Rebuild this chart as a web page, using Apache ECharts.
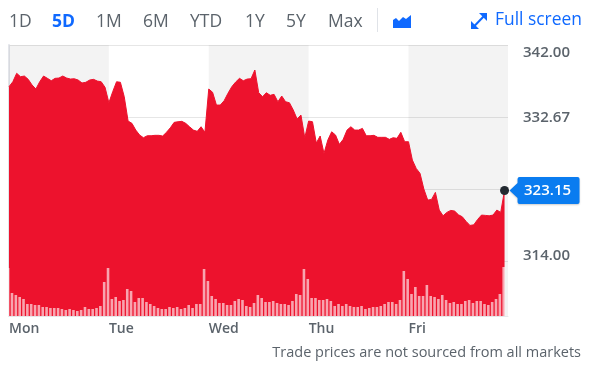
<!DOCTYPE html>
<html>
<head>
<meta charset="utf-8">
<style>
  html, body { margin: 0; padding: 0; background: #fff; }
  #chart { width: 596px; height: 378px; }
</style>
<script src="https://cdn.jsdelivr.net/npm/echarts@6/dist/echarts.min.js"></script>
</head>
<body>
<div id="chart"></div>
<script>
const days = ['Mon', 'Tue', 'Wed', 'Thu', 'Fri'];
const dayStarts = [0, 26, 52, 78, 104];
const ranges = ['1D', '5D', '1M', '6M', 'YTD', '1Y', '5Y', 'Max'];
const rangeX = [9, 52, 96, 143, 190, 245, 286, 328];
const priceTicks = [342, 332.67, 323.33, 314];
const hiddenTick = 323.33;

// one reading per half hour bar
const prices = [
  336.60, 337.24, 338.33, 337.89, 337.98, 337.55, 336.82, 336.30, 337.24, 337.98, 337.68, 337.37, 337.68,
  337.72, 337.98, 337.72, 337.59, 337.63, 337.46, 337.08, 337.17, 337.46, 337.55, 337.33, 337.24, 336.52,
  334.52, 335.95, 337.24, 337.17, 335.30, 332.15, 331.85, 330.98, 330.34, 329.99, 330.25, 330.25, 330.30,
  330.30, 330.21, 330.69, 331.28, 331.98, 332.06, 332.11, 331.85, 331.41, 330.98, 330.82, 331.41, 330.69,
  336.30, 335.87, 334.22, 334.22, 334.78, 335.74, 336.60, 337.20, 337.68, 337.37, 337.59, 337.63, 338.76,
  335.82, 335.30, 335.82, 335.48, 335.61, 334.65, 335.39, 334.65, 334.52, 333.58, 332.41, 332.93, 329.99,
  332.15, 332.06, 329.30, 330.21, 327.96, 329.69, 330.76, 330.34, 329.13, 329.78, 330.98, 331.41, 330.98,
  330.98, 331.20, 330.25, 330.25, 330.30, 330.04, 330.04, 330.04, 329.78, 329.99, 329.91, 330.69, 329.47,
  329.47, 327.10, 326.02, 325.37, 323.34, 321.91, 322.00, 322.91, 320.62, 319.88, 320.32, 320.58, 320.49,
  320.01, 319.75, 319.15, 318.63, 318.71, 319.41, 319.97, 319.93, 319.88, 319.97, 320.62, 320.32, 323.15
];
const volumes = [
  48, 23, 21, 19, 17, 12, 12, 11, 11, 9, 9, 8, 8,
  8, 7, 6, 7, 6, 5, 6, 9, 7, 7, 8, 10, 34,
  48, 17, 19, 15, 16, 27, 25, 14, 18, 18, 14, 12, 10,
  8, 7, 7, 9, 8, 9, 7, 8, 11, 8, 12, 12, 47,
  35, 20, 17, 13, 13, 11, 11, 15, 17, 16, 10, 9, 13,
  21, 18, 14, 14, 15, 13, 12, 12, 11, 15, 22, 21, 47,
  37, 18, 18, 16, 16, 17, 15, 10, 12, 10, 12, 10, 9,
  9, 10, 7, 8, 9, 9, 10, 12, 14, 14, 12, 16, 45,
  37, 22, 29, 20, 20, 31, 20, 19, 17, 21, 16, 13, 14,
  12, 12, 15, 16, 13, 15, 15, 12, 11, 14, 17, 22, 49
];
const lastPrice = 323.15;

const grey = '#5b636b';
const blue = '#0f69ff';
const red = '#ed122d';
const font = '"Open Sans", sans-serif';

const myChart = echarts.init(document.getElementById('chart'), null, { renderer: 'canvas' });

const rangeText = ranges.map((name, i) => ({
  type: 'text',
  left: rangeX[i],
  top: 13,
  style: {
    text: name,
    fill: name === '5D' ? blue : grey,
    font: (name === '5D' ? '700' : '500') + ' 17.5px ' + font
  }
}));

const option = {
  backgroundColor: '#fff',
  animation: false,
  grid: { left: 9, right: 88, top: 45, bottom: 62 },
  xAxis: [
    {
      type: 'value',
      min: 0,
      max: 129.9,
      axisLine: { show: true, lineStyle: { color: '#e6e7ea', width: 1 } },
      axisTick: { show: false },
      splitLine: { show: false },
      axisLabel: {
        customValues: dayStarts,
        formatter: (v) => days[dayStarts.indexOf(v)] || '',
        align: 'left',
        color: grey,
        fontFamily: font,
        fontSize: 14,
        fontWeight: 600,
        margin: 6
      }
    },
    {
      // volume bars sit a little left of the price points
      type: 'value',
      min: 0.22,
      max: 130.12,
      show: false
    }
  ],
  yAxis: [
    {
      type: 'value',
      min: 306.9,
      max: 342,
      position: 'right',
      axisLine: { show: true, lineStyle: { color: '#e3e5ea', width: 2 } },
      axisTick: { show: false, customValues: priceTicks },
      splitLine: { show: true, lineStyle: { color: '#e6e6e6', width: 1 } },
      axisLabel: {
        customValues: priceTicks,
        margin: 15,
        formatter: (v) => {
          if (v === hiddenTick) return '';
          if (v === 342) return '{top|' + v.toFixed(2) + '}';
          if (v === 314) return '{low|' + v.toFixed(2) + '}';
          return '{mid|' + v.toFixed(2) + '}';
        },
        rich: {
          top: { color: grey, fontFamily: font, fontSize: 15, fontWeight: 600, padding: [16, 0, 0, 0] },
          mid: { color: grey, fontFamily: font, fontSize: 15, fontWeight: 600, padding: [2, 0, 0, 0] },
          low: { color: grey, fontFamily: font, fontSize: 15, fontWeight: 600, padding: [0, 0, 10, 0] }
        }
      }
    },
    {
      type: 'value',
      min: 0,
      max: 271,
      show: false
    }
  ],
  series: [
    {
      type: 'line',
      z: 1,
      data: [],
      silent: true,
      markArea: {
        silent: true,
        itemStyle: { color: 'rgba(0,0,0,0.047)' },
        data: [
          [{ xAxis: dayStarts[0] }, { xAxis: dayStarts[1] }],
          [{ xAxis: dayStarts[2] }, { xAxis: dayStarts[3] }],
          [{ xAxis: dayStarts[4] }, { xAxis: 129.9 }]
        ]
      }
    },
    {
      type: 'line',
      z: 2,
      data: prices.map((p, i) => [i, p]),
      showSymbol: false,
      lineStyle: { color: red, width: 1 },
      areaStyle: { color: red, opacity: 1, origin: 'start' },
      markPoint: {
        silent: true,
        data: [
          {
            coord: [prices.length - 1, lastPrice],
            symbol: 'path://M0 13.5 L8 6 L8 2 Q8 0 10 0 L68 0 Q70 0 70 2 L70 25 Q70 27 68 27 L10 27 Q8 27 8 25 L8 21 Z',
            symbolSize: [70, 27],
            symbolOffset: [40, 0],
            itemStyle: { color: '#0a7cf0', shadowColor: 'rgba(0,0,0,0.2)', shadowBlur: 2, shadowOffsetY: 1 },
            label: {
              show: true,
              position: 'inside',
              offset: [3, 0],
              formatter: lastPrice.toFixed(2),
              color: '#fff',
              fontFamily: font,
              fontSize: 15,
              fontWeight: 600
            }
          },
          {
            coord: [prices.length - 1, lastPrice],
            symbol: 'circle',
            symbolSize: 9,
            itemStyle: { color: '#232a31' },
            label: { show: false }
          }
        ]
      }
    },
    {
      type: 'bar',
      z: 3,
      xAxisIndex: 1,
      yAxisIndex: 1,
      barWidth: 2.6,
      data: volumes.map((v, i) => [i, v]),
      itemStyle: { color: 'rgba(255,255,255,0.62)' }
    }
  ],
  graphic: rangeText.concat([
    { type: 'rect', shape: { x: 377, y: 8, width: 1, height: 24 }, style: { fill: '#e0e3e8' } },
    // area chart icon
    {
      type: 'polygon',
      shape: { points: [[393, 28], [393, 20], [396, 18], [399, 21], [403, 17], [406, 19], [411, 15], [411, 28]] },
      style: { fill: blue }
    },
    // full screen arrows
    { type: 'polyline', shape: { points: [[472.5, 28], [485, 15]] }, style: { stroke: blue, lineWidth: 2, fill: 'none' } },
    { type: 'polygon', shape: { points: [[479, 13], [487, 13], [487, 21]] }, style: { fill: blue } },
    { type: 'polygon', shape: { points: [[471, 21], [471, 29], [479, 29]] }, style: { fill: blue } },
    {
      type: 'text',
      left: 495,
      top: 12,
      style: { text: 'Full screen', fill: blue, font: '500 17.4px ' + font }
    },
    {
      type: 'text',
      right: 15,
      top: 345,
      style: { text: 'Trade prices are not sourced from all markets', fill: grey, font: '400 14.5px ' + font }
    }
  ])
};

myChart.setOption(option);
</script>
</body>
</html>
